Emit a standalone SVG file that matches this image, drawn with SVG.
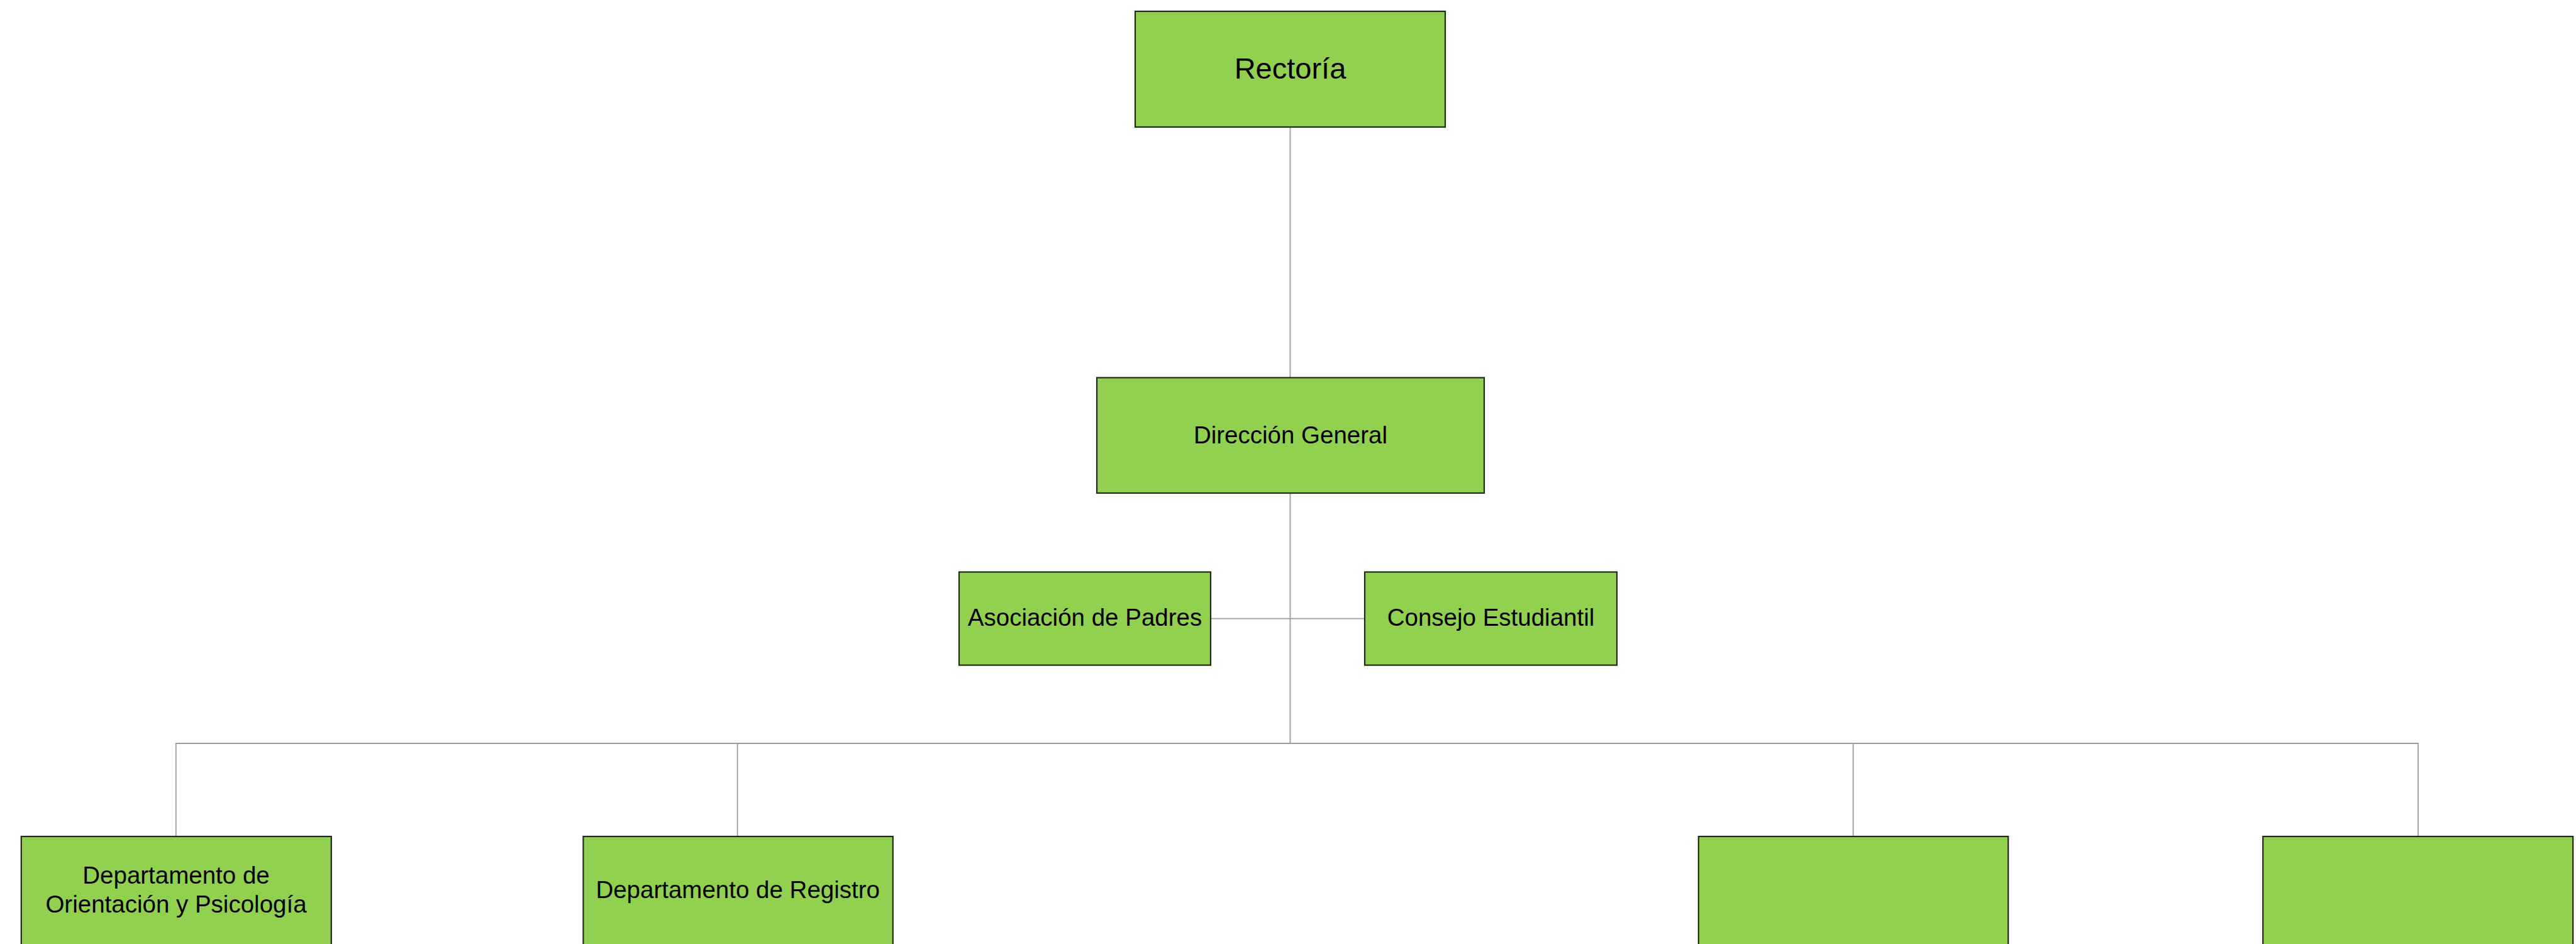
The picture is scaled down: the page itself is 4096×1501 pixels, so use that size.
<svg xmlns="http://www.w3.org/2000/svg" width="4096" height="1501" viewBox="0 0 4096 1501">
  <style>
    .box { fill: #92d050; stroke: #1e2a14; stroke-width: 2.2; }
    .lbl { font-family: "Liberation Sans", Arial, sans-serif; font-size: 38.5px; fill: #000; text-anchor: middle; }
    .big { font-size: 47px; }
    .link { stroke: #9c9c9c; stroke-width: 1.8; fill: none; }
  </style>
  <rect width="4096" height="1501" fill="#ffffff"/>

  <!-- connectors -->
  <g id="connectors">
    <path class="link" d="M2051.5 202 V600"/>
    <path class="link" d="M2051.5 784 V1182"/>
    <path class="link" d="M1925 983.6 H2170"/>
    <path class="link" d="M279.8 1330 V1182 H3845 V1330"/>
    <path class="link" d="M1172.6 1182 V1330"/>
    <path class="link" d="M2946.7 1182 V1330"/>
  </g>

  <g id="rectoria">
    <rect class="box" x="1805" y="18" width="493" height="184"/>
    <text class="lbl big" x="2051.5" y="125">Rectoría</text>
  </g>

  <g id="direccion-general">
    <rect class="box" x="1744" y="600.5" width="616" height="183.5"/>
    <text class="lbl" x="2052" y="704.5">Dirección General</text>
  </g>

  <g id="asociacion-padres">
    <rect class="box" x="1525" y="909.5" width="400" height="148.1"/>
    <text class="lbl" x="1725" y="995">Asociación de Padres</text>
  </g>

  <g id="consejo-estudiantil">
    <rect class="box" x="2170" y="909.5" width="401" height="148.1"/>
    <text class="lbl" x="2370.5" y="995">Consejo Estudiantil</text>
  </g>

  <g id="dep-orientacion">
    <rect class="box" x="33.8" y="1330" width="493" height="190"/>
    <text class="lbl" x="280" y="1405">Departamento de</text>
    <text class="lbl" x="280" y="1450.5">Orientación y Psicología</text>
  </g>

  <g id="dep-registro">
    <rect class="box" x="927.4" y="1330" width="492.4" height="190"/>
    <text class="lbl" x="1173.2" y="1428">Departamento de Registro</text>
  </g>

  <g id="dep-3">
    <rect class="box" x="2700.8" y="1330" width="492.4" height="190"/>
  </g>

  <g id="dep-4">
    <rect class="box" x="3598.2" y="1330" width="493" height="190"/>
  </g>
</svg>
